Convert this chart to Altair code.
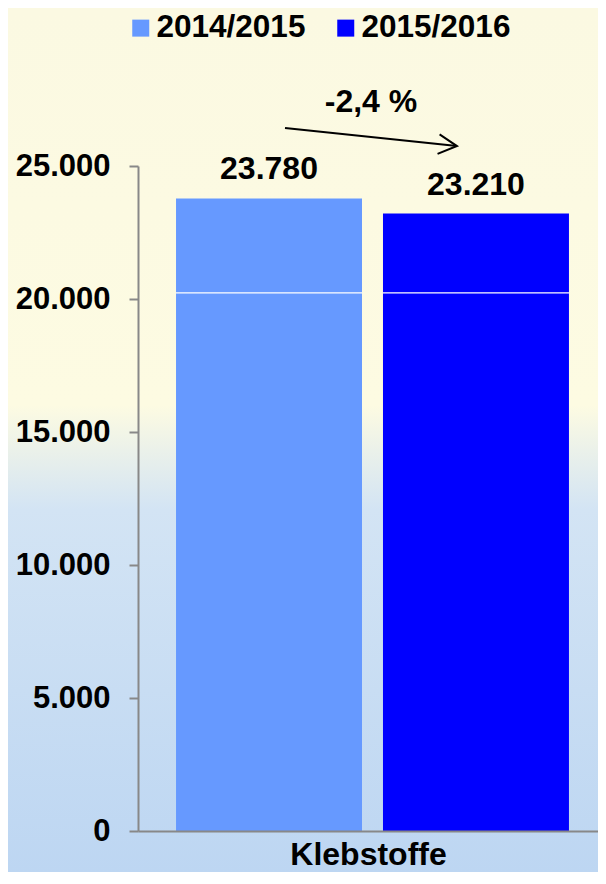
import altair as alt
import pandas as pd

# ---- data ----
years = ["2014/2015", "2015/2016"]
values = [23780, 23210]
bar_colors = ["#6699FF", "#0000FF"]
category_title = "Klebstoffe"
y_ticks = [0, 5000, 10000, 15000, 20000, 25000]
separator_value = 20230          # thin white line visible across both bars
change_text = "-2,4 %"
change_text_y = 27030            # annotation baseline, in axis units
arrow_from_y = 26430
arrow_to_y = 25750

FONT = "Liberation Sans, Arial, sans-serif"

df = pd.DataFrame({"year": years, "value": values})
sep_df = pd.DataFrame({"year": years, "lo": [separator_value - 25] * 2, "hi": [separator_value + 25] * 2})
ann_df = pd.DataFrame({"year": [years[0]], "y": [change_text_y], "text": [change_text]})
arrow_df = pd.DataFrame({"year": [years[0]], "year2": [years[1]], "y": [arrow_from_y], "y2": [arrow_to_y]})
head_df = pd.DataFrame({"year": [years[1]], "y": [arrow_to_y]})
bg_df = pd.DataFrame({"bg": [0]})

W, H = 460, 665
PAD = {"left": 130, "top": 158, "right": 0, "bottom": 41}

x_scale = alt.Scale(domain=years, paddingInner=0.1014, paddingOuter=0.162, align=0.567)
y_scale = alt.Scale(domain=[0, 25000], nice=False)

x_enc = alt.X(
    "year:N",
    scale=x_scale,
    axis=alt.Axis(
        title=category_title,
        labels=False,
        ticks=False,
        domainColor="#888888",
        domainWidth=2,
        titleFont=FONT,
        titleFontSize=32,
        titleFontWeight="bold",
        titleColor="black",
        titlePadding=8,
        zindex=2,
    ),
)
y_enc = alt.Y(
    "value:Q",
    scale=y_scale,
    axis=alt.Axis(
        title="",
        values=y_ticks,
        labelExpr="replace(format(datum.value, ','), ',', '.')",
        labelFont=FONT,
        labelFontSize=31,
        labelFontWeight="bold",
        labelColor="black",
        labelPadding=19,
        tickSize=9,
        tickColor="#888888",
        tickWidth=2,
        domainColor="#888888",
        domainWidth=2,
        grid=False,
        zindex=2,
    ),
)

background = alt.Chart(bg_df).mark_rect(
    color=alt.LinearGradient(
        gradient="linear",
        x1=0, x2=0, y1=0, y2=1,
        stops=[
            alt.GradientStop(color="#FBF9E2", offset=0.0),
            alt.GradientStop(color="#FDFBE2", offset=0.46),
            alt.GradientStop(color="#D3E4F4", offset=0.58),
            alt.GradientStop(color="#BDD6F2", offset=1.0),
        ],
    )
).encode(
    x=alt.value(-PAD["left"]), x2=alt.value(W + PAD["right"]),
    y=alt.value(-PAD["top"]), y2=alt.value(H + PAD["bottom"])
)

bars = alt.Chart(df).mark_bar().encode(
    x=x_enc,
    y=y_enc,
    color=alt.Color(
        "year:N",
        scale=alt.Scale(domain=years, range=bar_colors),
        legend=alt.Legend(
            title=None,
            orient="none",
            legendX=-13,
            legendY=-154,
            direction="horizontal",
            columns=2,
            symbolType="square",
            symbolSize=289,
            symbolStrokeWidth=0,
            labelFont=FONT,
            labelFontSize=31.5,
            labelFontWeight="bold",
            labelColor="black",
            labelOffset=0,
            columnPadding=24,
            padding=0,
        ),
    ),
)

separator = alt.Chart(sep_df).mark_bar(color="white").encode(
    x=alt.X("year:N", scale=x_scale),
    y=alt.Y("lo:Q", scale=y_scale),
    y2="hi:Q",
)

labels = alt.Chart(df).transform_calculate(
    label="replace(format(datum.value, ','), ',', '.')"
).mark_text(
    baseline="alphabetic", dy=-19, font=FONT, fontSize=32, fontWeight="bold", color="black"
).encode(
    x=alt.X("year:N", scale=x_scale),
    y=alt.Y("value:Q", scale=y_scale),
    text="label:N",
)

ann_text = alt.Chart(ann_df).mark_text(
    baseline="alphabetic", dx=102, font=FONT, fontSize=32, fontWeight="bold", color="black"
).encode(
    x=alt.X("year:N", scale=x_scale),
    y=alt.Y("y:Q", scale=y_scale),
    text="text:N",
)

arrow = alt.Chart(arrow_df).mark_rule(
    color="black", strokeWidth=2, xOffset=16, x2Offset=-19
).encode(
    x=alt.X("year:N", scale=x_scale),
    x2="year2:N",
    y=alt.Y("y:Q", scale=y_scale),
    y2="y2:Q",
)

arrow_head = alt.Chart(head_df).mark_point(
    shape="M-1,-0.53L0,0L-1,0.53",
    filled=False,
    stroke="black",
    strokeWidth=2,
    size=1369,
    angle=6,
    xOffset=-19,
    opacity=1,
).encode(
    x=alt.X("year:N", scale=x_scale),
    y=alt.Y("y:Q", scale=y_scale),
)

chart = alt.layer(
    background, bars, separator, labels, ann_text, arrow, arrow_head
).properties(
    width=W,
    height=H,
    autosize=alt.AutoSizeParams(type="none"),
    padding=PAD,
).configure(
    background="#FBF9E2",
).configure_view(
    strokeWidth=0,
)

chart.save("out.html", embed_options={"renderer": "svg", "actions": False})
